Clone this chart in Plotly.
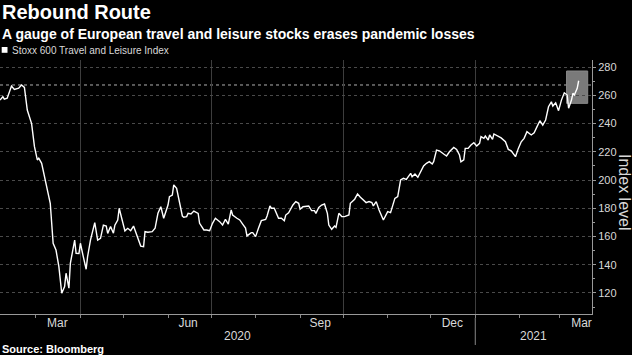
import plotly.graph_objects as go
import pandas as pd

# ---- data ----
dates = [
    "2020-02-05", "2020-02-07", "2020-02-08", "2020-02-10", "2020-02-13", "2020-02-15", "2020-02-18",
    "2020-02-20", "2020-02-22", "2020-02-24", "2020-02-27", "2020-02-29", "2020-03-02", "2020-03-03",
    "2020-03-05", "2020-03-07", "2020-03-10", "2020-03-11", "2020-03-13", "2020-03-15", "2020-03-17",
    "2020-03-19", "2020-03-21", "2020-03-22", "2020-03-24", "2020-03-25", "2020-03-28", "2020-03-29",
    "2020-03-31", "2020-04-01", "2020-04-03", "2020-04-05", "2020-04-06", "2020-04-08", "2020-04-11",
    "2020-04-13", "2020-04-15", "2020-04-17", "2020-04-19", "2020-04-20", "2020-04-22", "2020-04-24",
    "2020-04-25", "2020-04-27", "2020-04-28", "2020-04-30", "2020-05-02", "2020-05-04", "2020-05-06",
    "2020-05-08", "2020-05-10", "2020-05-13", "2020-05-15", "2020-05-16", "2020-05-18", "2020-05-21",
    "2020-05-23", "2020-05-25", "2020-05-27", "2020-05-29", "2020-06-01", "2020-06-02", "2020-06-04",
    "2020-06-05", "2020-06-07", "2020-06-09", "2020-06-11", "2020-06-12", "2020-06-14", "2020-06-15",
    "2020-06-17", "2020-06-19", "2020-06-22", "2020-06-23", "2020-06-26", "2020-06-28", "2020-06-30",
    "2020-07-02", "2020-07-04", "2020-07-07", "2020-07-09", "2020-07-11", "2020-07-13", "2020-07-15",
    "2020-07-16", "2020-07-19", "2020-07-21", "2020-07-23", "2020-07-25", "2020-07-26", "2020-07-29",
    "2020-07-30", "2020-08-01", "2020-08-03", "2020-08-05", "2020-08-08", "2020-08-09", "2020-08-11",
    "2020-08-12", "2020-08-14", "2020-08-16", "2020-08-17", "2020-08-19", "2020-08-21", "2020-08-22",
    "2020-08-24", "2020-08-27", "2020-08-29", "2020-08-31", "2020-09-01", "2020-09-03", "2020-09-05",
    "2020-09-07", "2020-09-09", "2020-09-11", "2020-09-12", "2020-09-14", "2020-09-16", "2020-09-18",
    "2020-09-20", "2020-09-21", "2020-09-23", "2020-09-25", "2020-09-26", "2020-09-28", "2020-09-30",
    "2020-10-02", "2020-10-05", "2020-10-06", "2020-10-09", "2020-10-11", "2020-10-13", "2020-10-15",
    "2020-10-17", "2020-10-19", "2020-10-21", "2020-10-22", "2020-10-24", "2020-10-26", "2020-10-29",
    "2020-11-01", "2020-11-03", "2020-11-06", "2020-11-08", "2020-11-10", "2020-11-12", "2020-11-14",
    "2020-11-17", "2020-11-18", "2020-11-20", "2020-11-22", "2020-11-24", "2020-11-26", "2020-11-28",
    "2020-11-30", "2020-12-02", "2020-12-03", "2020-12-05", "2020-12-07", "2020-12-10", "2020-12-12",
    "2020-12-14", "2020-12-17", "2020-12-19", "2020-12-21", "2020-12-22", "2020-12-24", "2020-12-25",
    "2020-12-27", "2020-12-29", "2020-12-31", "2021-01-02", "2021-01-04", "2021-01-05", "2021-01-07",
    "2021-01-08", "2021-01-10", "2021-01-11", "2021-01-13", "2021-01-14", "2021-01-17", "2021-01-19",
    "2021-01-22", "2021-01-24", "2021-01-26", "2021-01-29", "2021-01-31", "2021-02-02", "2021-02-04",
    "2021-02-06", "2021-02-09", "2021-02-11", "2021-02-13", "2021-02-15", "2021-02-17", "2021-02-19",
    "2021-02-21", "2021-02-23", "2021-02-24", "2021-02-26", "2021-02-28", "2021-03-02", "2021-03-04",
    "2021-03-06", "2021-03-07", "2021-03-09", "2021-03-10", "2021-03-11", "2021-03-13", "2021-03-14",
]
index_level = [
    256.6, 259.0, 257.3, 258.0, 266.5, 264.2, 265.0,
    267.3, 265.6, 249.6, 240.0, 223.6, 214.2, 215.4,
    211.8, 202.3, 188.2, 183.5, 155.2, 150.4, 138.6,
    119.8, 124.5, 134.0, 123.4, 141.0, 157.5, 148.1,
    148.0, 155.2, 145.7, 136.8, 145.7, 157.5, 169.8,
    157.5, 158.7, 168.1, 167.4, 162.2, 167.1, 162.3,
    168.0, 171.7, 180.0, 171.7, 164.0, 165.8, 164.1,
    167.4, 162.2, 153.2, 152.8, 163.4, 163.0, 163.4,
    165.8, 176.4, 181.1, 172.9, 182.3, 188.2, 189.4,
    196.5, 194.1, 184.7, 174.5, 173.6, 174.1, 176.4,
    176.0, 178.0, 176.4, 169.3, 164.6, 164.6, 164.1,
    169.3, 172.9, 170.5, 168.1, 172.1, 168.8, 178.8,
    175.2, 172.9, 171.7, 168.8, 166.0, 160.4, 162.7,
    162.7, 159.9, 165.8, 171.2, 172.1, 174.5, 181.6,
    180.0, 180.0, 174.5, 172.9, 172.9, 171.2, 175.2,
    176.8, 182.3, 184.7, 183.5, 179.3, 181.1, 181.6,
    181.6, 178.3, 178.3, 176.4, 180.6, 182.3, 183.0,
    176.4, 168.1, 165.1, 167.4, 166.5, 176.4, 174.1,
    174.1, 175.2, 183.5, 186.4, 190.1, 187.8, 185.8,
    184.0, 184.7, 184.0, 181.6, 184.7, 178.8, 171.7,
    177.6, 176.9, 187.0, 188.2, 200.0, 201.2, 200.5,
    204.7, 202.3, 204.2, 201.9, 205.9, 209.9, 211.8,
    213.0, 211.3, 213.0, 221.2, 220.7, 218.4, 217.0,
    220.0, 223.1, 221.7, 217.7, 212.9, 214.2, 222.4,
    222.4, 224.8, 226.4, 224.1, 226.0, 230.7, 229.5,
    231.1, 228.3, 231.9, 228.8, 232.6, 231.1, 229.8,
    227.1, 221.7, 220.7, 216.5, 222.4, 227.1, 229.5,
    234.2, 231.9, 233.5, 237.8, 242.0, 238.9, 242.5,
    251.9, 255.4, 252.4, 254.7, 249.1, 256.6, 261.8,
    260.2, 250.8, 256.6, 261.4, 260.2, 264.9, 270.3,
]

series_name = "Stoxx 600 Travel and Leisure Index"
y_ticks = [120, 140, 160, 180, 200, 220, 240, 260, 280]
month_labels = ["Mar", "Jun", "Sep", "Dec", "Mar"]
month_label_dates = ["2020-03-16", "2020-06-15", "2020-09-15", "2020-12-16", "2021-03-16"]
quarter_starts = ["2020-04-01", "2020-07-01", "2020-10-01", "2021-01-01"]
year_labels = ["2020", "2021"]
year_start = "2021-01-01"

x_range = ["2020-02-05", "2021-03-23 07:00"]
y_range = [105.1, 285.0]

# recent-gains highlight box and pre-pandemic high
highlight_x = ["2021-03-05 14:00", "2021-03-20 07:00"]
highlight_y = [254.3, 277.2]
pre_pandemic_high = max(v for d, v in zip(dates, index_level) if d < "2020-03-01")

FONT = "Liberation Sans, Arial, sans-serif"
TXT = "#d9d9d9"

fig = go.Figure()
fig.add_trace(go.Scatter(
    x=dates, y=index_level, mode="lines", name=series_name,
    line=dict(color="#ffffff", width=1.4), showlegend=False, xaxis="x", yaxis="y",
))
# invisible trace carrying the month labels axis
fig.add_trace(go.Scatter(x=[None], y=[None], xaxis="x2", yaxis="y", showlegend=False))

t0 = pd.Timestamp(x_range[0])
t1 = pd.Timestamp(x_range[1])
ys = pd.Timestamp(year_start)
year_centers = [t0 + (ys - t0) / 2, ys + (t1 - ys) / 2]

fig.update_layout(
    width=632, height=355,
    margin=dict(l=0, r=40, t=60, b=41),
    paper_bgcolor="#000000", plot_bgcolor="#000000",
    font=dict(family=FONT, color=TXT, size=11),
    xaxis=dict(
        type="date", range=x_range,
        tickvals=quarter_starts, showticklabels=False,
        ticks="outside", ticklen=3, tickcolor="#888888",
        showgrid=True, gridcolor="#3d3d3d", gridwidth=1,
        showline=True, linecolor="#999999", linewidth=1,
        minor=dict(dtick="M1", tick0="2020-01-01", ticks="outside", ticklen=3,
                   tickcolor="#888888", showgrid=False),
        zeroline=False,
    ),
    xaxis2=dict(
        type="date", range=x_range, overlaying="x", anchor="y", side="bottom",
        tickvals=month_label_dates, ticktext=month_labels,
        ticks="", showgrid=False, showline=False, zeroline=False,
        tickfont=dict(size=12, color=TXT, family=FONT),
    ),
    yaxis=dict(
        range=y_range, side="right", tickvals=y_ticks,
        ticks="outside", ticklen=3, tickcolor="#999999",
        minor=dict(dtick=10, tick0=0, ticks="outside", ticklen=2, tickcolor="#999999", showgrid=False),
        showgrid=True, gridcolor="#4a4a4a", griddash="dot", gridwidth=1,
        showline=True, linecolor="#999999", linewidth=1,
        tickfont=dict(size=11, color=TXT, family=FONT),
        zeroline=False,
    ),
    shapes=[
        dict(type="rect", xref="x", yref="y", x0=highlight_x[0], x1=highlight_x[1],
             y0=highlight_y[0], y1=highlight_y[1], fillcolor="#7a7a7a",
             line=dict(color="#8a8a8a", width=1), layer="below"),
        dict(type="line", xref="paper", yref="y", x0=0, x1=1,
             y0=pre_pandemic_high, y1=pre_pandemic_high,
             line=dict(color="#b0b0b0", width=1, dash="dot"), layer="below"),
        dict(type="line", xref="x", yref="paper", x0=year_start, x1=year_start,
             y0=-0.016, y1=-0.122, line=dict(color="#888888", width=1)),
        dict(type="rect", xref="paper", yref="paper", x0=1.7 / 592, x1=7.5 / 592,
             y0=(314 - 52.8) / 254, y1=(314 - 47.0) / 254,
             fillcolor="#ffffff", line=dict(width=0)),
    ],
    annotations=[
        dict(text="<b>Rebound Route</b>", xref="paper", yref="paper", x=0, y=(314 - 12) / 254,
             xanchor="left", yanchor="middle", showarrow=False,
             font=dict(size=20, color="#ffffff", family=FONT)),
        dict(text="<b>A gauge of European travel and leisure stocks erases pandemic losses</b>",
             xref="paper", yref="paper", x=0, y=(314 - 34.5) / 254,
             xanchor="left", yanchor="middle", showarrow=False,
             font=dict(size=14, color="#ffffff", family=FONT)),
        dict(text=series_name, xref="paper", yref="paper", x=10 / 592, y=(314 - 50) / 254,
             xanchor="left", yanchor="middle", showarrow=False,
             font=dict(size=10, color=TXT, family=FONT)),
        dict(text="<b>Source: Bloomberg</b>", xref="paper", yref="paper", x=0, y=(314 - 349) / 254,
             xanchor="left", yanchor="middle", showarrow=False,
             font=dict(size=11, color="#ffffff", family=FONT)),
        dict(text="Index level", xref="paper", yref="paper", x=625 / 592, y=(314 - 192) / 254,
             xanchor="center", yanchor="middle", textangle=90, showarrow=False,
             font=dict(size=16, color=TXT, family=FONT)),
        dict(text=year_labels[0], xref="x", yref="paper", x=year_centers[0], y=(314 - 336) / 254,
             xanchor="center", yanchor="middle", showarrow=False,
             font=dict(size=12, color=TXT, family=FONT)),
        dict(text=year_labels[1], xref="x", yref="paper", x=year_centers[1], y=(314 - 336) / 254,
             xanchor="center", yanchor="middle", showarrow=False,
             font=dict(size=12, color=TXT, family=FONT)),
    ],
)

fig.write_html(
    "out.html",
    config={"displayModeBar": False},
    post_script="document.body.style.margin='0';document.body.style.padding='0';"
                "document.body.style.overflow='hidden';document.body.style.background='#000';",
)
